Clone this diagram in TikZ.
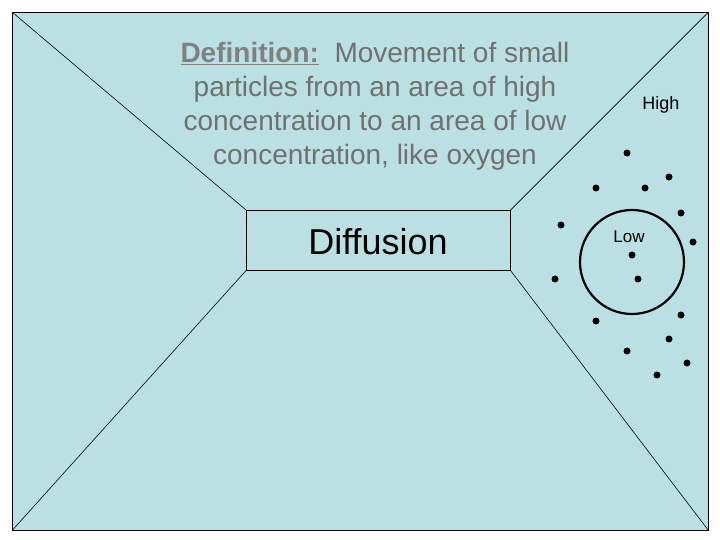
\documentclass[tikz,border=0pt]{standalone}
\usepackage{fontspec}
\setmainfont{Liberation Sans}
\definecolor{bg}{HTML}{BBE0E3}
\definecolor{txt}{HTML}{707070}
\definecolor{deft}{HTML}{808080}
\begin{document}
\begin{tikzpicture}[x=1pt,y=-1pt,
  dot/.style={circle,fill=black,inner sep=0pt,minimum size=7pt},
  ln/.style={draw=black,line width=0.6pt}]
\useasboundingbox (0,0) rectangle (720,540);
\node[ln,fill=bg,minimum width=696pt,minimum height=518pt,inner sep=0pt,anchor=north west] (outer) at (12,12) {};
\node[ln,fill=bg,minimum width=264pt,minimum height=60pt,inner sep=0pt,anchor=north west] (box) at (246,210) {};
\node[font=\fontsize{36}{40}\selectfont] (lab) at (378,242) {Diffusion};
\draw[ln] (outer.north west) -- (box.north west);
\draw[ln] (outer.north east) -- (box.north east);
\draw[ln] (outer.south west) -- (box.south west);
\draw[ln] (outer.south east) -- (box.south east);
\node[align=center,text=txt,font=\fontsize{28}{34}\selectfont] (def) at (375,106)
 {\textcolor{deft}{\underline{\textbf{Definition:}}}\ \ Movement of small\\particles from an area of high\\concentration to an area of low\\concentration, like oxygen};
\node[draw=black,line width=2.2pt,circle,minimum size=104pt,inner sep=0pt] (circ) at (632,262) {};
\node[font=\fontsize{18}{20}\selectfont] (high) at (661,105) {High};
\node[font=\fontsize{17}{19}\selectfont] (low) at (629,237) {Low};
\foreach \x/\y [count=\i] in {627/153,669/177,596/188,645/188,681/213,561/225,693/242,632/255,555/279,638/279,681/315,596/321,669/339,627/351,687/363,657/375}
  \node[dot] (d\i) at (\x,\y) {};
\end{tikzpicture}
\end{document}
